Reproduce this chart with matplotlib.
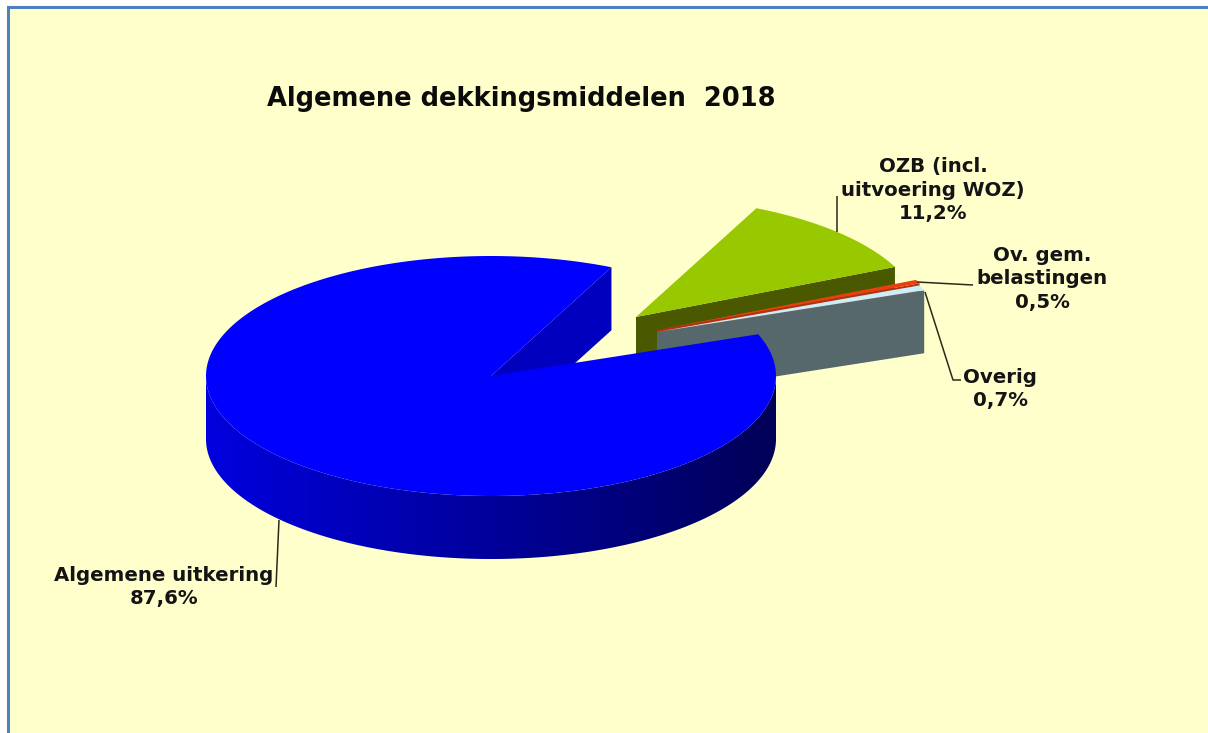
import numpy as np
import matplotlib
matplotlib.use("Agg")
import matplotlib.pyplot as plt
from matplotlib.patches import Polygon, Rectangle

# ---- data ----
title = "Algemene dekkingsmiddelen  2018"
categories = ["Algemene uitkering", "OZB (incl.\nuitvoering WOZ)", "Ov. gem.\nbelastingen", "Overig"]
shares = [87.6, 11.2, 0.5, 0.7]
value_labels = ["87,6%", "11,2%", "0,5%", "0,7%"]

# ---- style ----
top_cols = ["#0000FF", "#97C800", "#E8410F", "#CDEEF8"]
cut_cols = ["#0000BE", "#4A5800", "#B5300E", "#56686B"]
BG = "#FFFFCC"
BORDER = "#4F81BD"

W, H = 1208, 733
CX, CY, RX, RY, DEPTH = 491, 376, 285, 120, 63
START = 65.0                                  # first slice boundary, degrees
offsets = [(0, 0), (145, -59), (166, -46), (166, -44)]

fig = plt.figure(figsize=(W / 100, H / 100), dpi=100, facecolor="white")
ax = fig.add_axes([0, 0, 1, 1])
ax.set_xlim(0, W)
ax.set_ylim(H, 0)
ax.axis("off")

ax.add_patch(Rectangle((8, 7), W, H, fc=BG, ec=BORDER, lw=2.2, zorder=0))

total = sum(shares)
spans = [s / total * 360 for s in shares]

bounds = {}
a = START
for i in [1, 2, 3, 0]:
    bounds[i] = (a, a - spans[i])
    a -= spans[i]


def pt(theta, ox=0, oy=0, dz=0):
    t = np.radians(theta)
    return CX + ox + RX * np.cos(t), CY + oy - RY * np.sin(t) + dz


def top_poly(i):
    a0, a1 = bounds[i]
    ox, oy = offsets[i]
    ts = np.linspace(a0, a1, 240)
    xs, ys = pt(ts, ox, oy)
    return np.r_[[CX + ox], xs], np.r_[[CY + oy], ys]


def cut_face(i, theta):
    ox, oy = offsets[i]
    x, y = pt(theta, ox, oy)
    ax_, ay_ = CX + ox, CY + oy
    return [(ax_, ay_), (x, y), (x, y + DEPTH), (ax_, ay_ + DEPTH)]


z = 2
for i in [1, 2, 3]:
    ax.add_patch(Polygon(cut_face(i, bounds[i][1]), fc=cut_cols[i], ec="none", zorder=z))
    xs, ys = top_poly(i)
    ax.add_patch(Polygon(np.c_[xs, ys], fc=top_cols[i], ec="none", zorder=z + 1))
    z += 2

# big slice: radial cut, shaded rim (gradient clipped to the rim), top
blue_end = bounds[0][1]
ax.add_patch(Polygon(cut_face(0, blue_end), fc=cut_cols[0], ec="none", zorder=10))

rim_ts = np.linspace(180, 360, 400)
rx, ry = pt(rim_ts)
rim_poly = Polygon(np.r_[np.c_[rx, ry], np.c_[rx[::-1], ry[::-1] + DEPTH]],
                   fc="none", ec="none", transform=ax.transData)
ax.add_patch(rim_poly)
ramp = np.linspace(0, 1, 600)
grad = np.zeros((1, 600, 3))
grad[0, :, 2] = (222 - 135 * ramp) / 255
im = ax.imshow(grad, extent=(CX - RX, CX + RX, CY + RY + DEPTH + 2, CY - 5), aspect="auto",
               interpolation="bilinear", zorder=11)
im.set_clip_path(rim_poly)
ax.set_xlim(0, W)
ax.set_ylim(H, 0)

xs, ys = top_poly(0)
ax.add_patch(Polygon(np.c_[xs, ys], fc=top_cols[0], ec="none", zorder=12))

# leader lines
lc = "#2A2A1A"
for lx, ly in [([279, 276], [520, 587]),
               ([837, 837], [232, 196]),
               ([917, 973], [282, 285]),
               ([925, 953, 961], [292, 380, 380])]:
    ax.plot(lx, ly, color=lc, lw=1.1, zorder=13, solid_capstyle="butt")

# texts
fam = ["DejaVu Sans"]
ax.text(521, 99, title, ha="center", va="center", fontsize=18.5, fontweight="bold",
        color="#0B0B0B", family=fam)
fs = 14.2
place = [(164, 587), (933, 190), (1042, 279), (1000, 389)]
for i in range(4):
    x, y = place[i]
    ax.text(x, y, categories[i] + "\n" + value_labels[i], ha="center", va="center",
            ma="center", fontsize=fs, fontweight="bold", color="#141414", family=fam,
            linespacing=1.3, zorder=14)

fig.savefig("out.png", dpi=100, facecolor="white")
